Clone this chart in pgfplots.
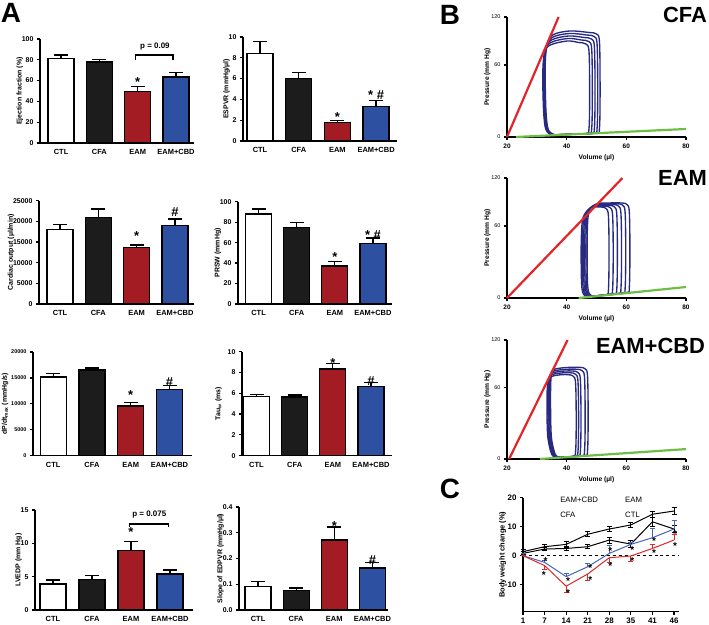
\documentclass[border=0pt]{standalone}
\usepackage{pgfplots}
\pgfplotsset{compat=1.18}
\usepackage{fontspec}
\setmainfont{Liberation Sans}

\definecolor{eamred}{RGB}{163,28,36}
\definecolor{cbdblue}{RGB}{46,80,160}
\definecolor{cfablack}{RGB}{28,28,28}
\definecolor{pvnavy}{RGB}{40,42,130}
\definecolor{espvr}{RGB}{228,36,40}
\definecolor{edpvr}{RGB}{110,190,70}
\definecolor{cred}{RGB}{222,40,40}
\definecolor{cblue}{RGB}{70,100,180}

\newcommand{\fs}[1]{\fontsize{#1}{#1}\selectfont}

\tikzset{
  ast/.style={font=\bfseries\fs{13}, inner sep=0pt, yshift=-2.5bp},
  sast/.style={font=\bfseries\fs{10}, inner sep=0pt, yshift=-2bp},
  ann/.style={font=\bfseries\fs{8}, inner sep=0pt},
}

\pgfplotsset{
  gp/.style={scale only axis, axis x line*=bottom, axis y line*=left,
    axis line style={line width=1.3bp, black},
    tick style={line width=1.2bp, black}, major tick length=3bp, tick align=outside,
    tick label style={font=\bfseries\fs{7}}, label style={font=\bfseries\fs{7}},
    ylabel shift=-8bp,
    /pgf/number format/assume math mode=true, clip=false},
  barax/.style={gp, ymin=0, xtick={1,2,3,4}, xticklabels={CTL,CFA,EAM,EAM+CBD},
    xtick style={draw=none}, xticklabel style={font=\bfseries\fs{7.5}},
    scaled y ticks=false},
  gbar/.style={ybar, bar width=26bp, bar shift=0pt, draw=black, line width=1.3bp,
    error bars/y dir=plus, error bars/y explicit,
    error bars/error bar style={line width=1.3bp, black},
    error bars/error mark options={rotate=90, line width=1.3bp, mark size=7bp, black}},
  pvax/.style={gp, width=179bp, height=120bp, xmin=20, xmax=80, ymin=0, ymax=120,
    xtick={20,40,60,80}, ytick={0,72,120}, yticklabels={0,60,120},
    xlabel={Volume (µl)}, ylabel={Pressure (mm Hg)}, ylabel shift=-6bp,
    xticklabel style={font=\bfseries\fs{6.5}}, yticklabel style={font=\fs{5.5}},
    label style={font=\bfseries\fs{6.7}}},
  pv/.style={pvnavy, line width=1.35bp, smooth, tension=0.55, mark=none},
  esl/.style={espvr, line width=2.2bp, mark=none},
  edl/.style={edpvr, line width=2.2bp, mark=none},
  bw/.style={line width=1bp, mark=none,
    error bars/y explicit,
    error bars/error bar style={line width=0.9bp},
    error bars/error mark options={rotate=90, line width=0.9bp, mark size=2.5bp}},
}

\begin{document}
\begin{tikzpicture}
\path[use as bounding box] (0,0) rectangle (709bp,625bp);

\node[font=\bfseries\fs{28}] at (11bp,612bp) {A};
\node[font=\bfseries\fs{28}] at (450bp,610bp) {B};
\node[font=\bfseries\fs{28}] at (450bp,136bp) {C};

% ---- A: ejection fraction
\begin{axis}[barax, at={(40bp,482bp)}, width=154bp, height=104bp,
  xmin=0.45, xmax=4.47, ymax=100, ytick={0,20,...,100},
  ylabel={Ejection fraction (\%)}]
\addplot[gbar, fill=white] coordinates {(1,81) +- (0,3.5)};
\addplot[gbar, fill=cfablack] coordinates {(2,78) +- (0,2)};
\addplot[gbar, fill=eamred] coordinates {(3,49.5) +- (0,5)};
\addplot[gbar, fill=cbdblue] coordinates {(4,63.5) +- (0,4.5)};
\node[ast] at (axis cs:3,60.6) {*};
\draw[line width=1.2bp] (axis cs:2.95,79.8) -- (axis cs:2.95,84.6) -- (axis cs:3.92,84.6) -- (axis cs:3.92,79.8);
\node[ann] at (axis cs:3.45,92.6) {p = 0.09};
\end{axis}

% ---- A: ESPVR
\begin{axis}[barax, at={(243bp,484bp)}, width=154bp, height=104bp,
  xmin=0.56, xmax=4.54, ymax=10, ytick={0,2,...,10},
  ylabel={ESPVR (mmHg/µl)}]
\addplot[gbar, fill=white] coordinates {(1,8.4) +- (0,1.2)};
\addplot[gbar, fill=cfablack] coordinates {(2,6.0) +- (0,0.6)};
\addplot[gbar, fill=eamred] coordinates {(3,1.8) +- (0,0.2)};
\addplot[gbar, fill=cbdblue] coordinates {(4,3.35) +- (0,0.55)};
\node[ast] at (axis cs:3,2.5) {*};
\node[ast] at (axis cs:4,4.65) {* \#};
\end{axis}

% ---- A: cardiac output
\begin{axis}[barax, at={(39bp,321bp)}, width=155bp, height=103.3bp,
  xmin=0.45, xmax=4.5, ymax=25000, ytick={0,5000,10000,15000,20000,25000},
  yticklabels={0,5000,10000,15000,20000,25000},
  ylabel={Cardiac output (µl/min)}]
\addplot[gbar, fill=white] coordinates {(1,18000) +- (0,1200)};
\addplot[gbar, fill=cfablack] coordinates {(2,21000) +- (0,2000)};
\addplot[gbar, fill=eamred] coordinates {(3,13700) +- (0,600)};
\addplot[gbar, fill=cbdblue] coordinates {(4,19000) +- (0,1600)};
\node[ast] at (axis cs:3,16940) {*};
\node[ast] at (axis cs:4,22900) {\#};
\end{axis}

% ---- A: PRSW
\begin{axis}[barax, at={(238bp,321bp)}, width=154bp, height=102.3bp,
  xmin=0.46, xmax=4.5, ymax=100, ytick={0,20,...,100},
  ylabel={PRSW (mmHg)}]
\addplot[gbar, fill=white] coordinates {(1,88) +- (0,5)};
\addplot[gbar, fill=cfablack] coordinates {(2,75) +- (0,5)};
\addplot[gbar, fill=eamred] coordinates {(3,37) +- (0,4.5)};
\addplot[gbar, fill=cbdblue] coordinates {(4,59) +- (0,5.5)};
\node[ast] at (axis cs:3,47.9) {*};
\node[ast] at (axis cs:4,69.7) {* \#};
\end{axis}

% ---- A: dP/dt max
\begin{axis}[barax, at={(33bp,169.3bp)}, width=159bp, height=103.7bp,
  xmin=0.48, xmax=4.58, ymax=20000, ytick={0,5000,10000,15000,20000},
  yticklabels={0,5000,10000,15000,20000}, yticklabel style={font=\bfseries\fs{5.5}},
  ylabel shift=-4bp,
  ylabel={dP/dt\textsubscript{max} (mmHg/s)}]
\addplot[gbar, fill=white] coordinates {(1,15200) +- (0,600)};
\addplot[gbar, fill=cfablack] coordinates {(2,16500) +- (0,400)};
\addplot[gbar, fill=eamred] coordinates {(3,9600) +- (0,700)};
\addplot[gbar, fill=cbdblue] coordinates {(4,12800) +- (0,700)};
\node[ast] at (axis cs:3,12150) {*};
\node[ast] at (axis cs:4,14730) {\#};
\end{axis}

% ---- A: Tau
\begin{axis}[barax, at={(242bp,169.3bp)}, width=150bp, height=104bp,
  xmin=0.62, xmax=4.55, ymax=10, ytick={0,2,...,10}, ylabel shift=-1bp,
  ylabel={Tau\textsubscript{w} (ms)}]
\addplot[gbar, fill=white] coordinates {(1,5.7) +- (0,0.2)};
\addplot[gbar, fill=cfablack] coordinates {(2,5.65) +- (0,0.2)};
\addplot[gbar, fill=eamred] coordinates {(3,8.35) +- (0,0.5)};
\addplot[gbar, fill=cbdblue] coordinates {(4,6.65) +- (0,0.4)};
\node[ast] at (axis cs:3,9.13) {*};
\node[ast] at (axis cs:4,7.44) {\#};
\end{axis}

% ---- A: LVEDP
\begin{axis}[barax, at={(35bp,15bp)}, width=158bp, height=100bp,
  xmin=0.54, xmax=4.59, ymax=15, ytick={0,5,10,15},
  ylabel={LVEDP (mm Hg)}]
\addplot[gbar, fill=white] coordinates {(1,3.9) +- (0,0.6)};
\addplot[gbar, fill=cfablack] coordinates {(2,4.6) +- (0,0.6)};
\addplot[gbar, fill=eamred] coordinates {(3,8.9) +- (0,1.4)};
\addplot[gbar, fill=cbdblue] coordinates {(4,5.4) +- (0,0.6)};
\node[ast] at (axis cs:3,12.0) {*};
\draw[line width=1.2bp] (axis cs:2.97,12.4) -- (axis cs:2.97,12.9) -- (axis cs:3.96,12.9) -- (axis cs:3.96,12.4);
\node[ann] at (axis cs:3.47,14.25) {p = 0.075};
\end{axis}

% ---- A: slope of EDPVR
\begin{axis}[barax, at={(239bp,15bp)}, width=149bp, height=103bp,
  xmin=0.5, xmax=4.41, ymax=0.4, ytick={0,0.1,0.2,0.3,0.4},
  yticklabels={0.0,0.1,0.2,0.3,0.4},
  ylabel={Slope of EDPVR (mmHg/µl)}]
\addplot[gbar, fill=white] coordinates {(1,0.09) +- (0,0.02)};
\addplot[gbar, fill=cfablack] coordinates {(2,0.077) +- (0,0.008)};
\addplot[gbar, fill=eamred] coordinates {(3,0.272) +- (0,0.05)};
\addplot[gbar, fill=cbdblue] coordinates {(4,0.163) +- (0,0.022)};
\node[ast] at (axis cs:3,0.334) {*};
\node[ast] at (axis cs:4,0.205) {\#};
\end{axis}

% ---- B: CFA loops
\begin{axis}[pvax, at={(507bp,488bp)}]
\addplot[pv] coordinates {(36.3,2.2) (42.9,3.0) (50.0,4.0) (51.0,9) (51.2,47) (51.0,95) (50.0,103) (47.5,104.5) (41,106) (35.3,102) (33.4,91) (32.8,71) (33.0,30) (33.6,10) (34.8,3.8) (36.3,2.2)};
\addplot[pv] coordinates {(36.1,2.2) (42.4,2.9) (49.2,3.8) (50.2,9) (50.4,46) (50.2,92.5) (49.2,100.5) (46.7,102) (40.8,103.5) (35.1,99.5) (33.2,89) (32.6,69) (32.8,30) (33.4,10) (34.6,3.8) (36.1,2.2)};
\addplot[pv] coordinates {(35.9,2.1) (41.9,2.8) (48.3,3.7) (49.3,9) (49.5,45) (49.3,90) (48.3,98) (45.8,99.5) (40.6,101) (34.9,97) (33.0,87.5) (32.4,67.5) (32.6,30) (33.2,10) (34.4,3.7) (35.9,2.1)};
\addplot[pv] coordinates {(35.7,2.1) (41.3,2.7) (47.4,3.6) (48.4,9) (48.6,44) (48.4,87.5) (47.4,95.5) (44.9,97) (40.4,98.5) (34.7,94.5) (32.8,86) (32.2,66) (32.4,30) (33.0,10) (34.2,3.6) (35.7,2.1)};
\addplot[pv] coordinates {(35.5,2.0) (40.8,2.6) (46.5,3.5) (47.5,9) (47.7,43) (47.5,85) (46.5,93) (44.0,94.5) (40.2,96) (34.5,92) (32.6,84.5) (32.0,64.5) (32.2,30) (32.8,10) (34.0,3.5) (35.5,2.0)};
\addplot[esl] coordinates {(20,0) (37.3,120)};
\addplot[edl] coordinates {(23,0) (80,8)};
\end{axis}
\node[font=\bfseries\fs{22}] at (685bp,610bp) {CFA};

% ---- B: EAM loops
\begin{axis}[pvax, at={(507bp,327bp)}]
\addplot[pv] coordinates {(47.4,1.3) (49.45,2.0) (53.2,3.4) (54.0,8) (54.2,45) (54.0,82) (53.2,89.5) (51.5,91) (49.45,91) (47.9,90) (45.5,80.4) (44.9,58.4) (44.9,25) (45.2,8) (46.1,2.1) (47.4,1.3)};
\addplot[pv] coordinates {(47.8,1.5) (50.35,2.2) (54.6,3.8) (55.4,8.5) (55.6,45) (55.4,82.8) (54.6,90.3) (52.9,91.8) (50.35,91.8) (48.3,90.8) (45.9,81.7) (45.3,59.7) (45.3,25) (45.6,8) (46.5,2.2) (47.8,1.5)};
\addplot[pv] coordinates {(48.2,1.6) (51.25,2.5) (56.0,4.2) (56.8,9) (57.0,45) (56.8,83.6) (56.0,91.1) (54.3,92.6) (51.25,92.6) (48.7,91.6) (46.3,82.9) (45.7,60.9) (45.7,25) (46.0,8) (46.9,2.3) (48.2,1.6)};
\addplot[pv] coordinates {(48.6,1.7) (52.15,2.8) (57.4,4.6) (58.2,9.5) (58.4,46) (58.2,84.4) (57.4,91.9) (55.7,93.4) (52.15,93.4) (49.1,92.4) (46.7,84.2) (46.1,62.2) (46.1,25) (46.4,8) (47.3,2.5) (48.6,1.7)};
\addplot[pv] coordinates {(49.0,1.8) (53.05,3.1) (58.8,5.1) (59.6,10) (59.8,46) (59.6,85.2) (58.8,92.7) (57.1,94.2) (53.05,94.2) (49.5,93.2) (47.1,85.4) (46.5,63.4) (46.5,25) (46.8,8) (47.7,2.6) (49.0,1.8)};
\addplot[pv] coordinates {(49.4,2.0) (53.95,3.3) (60.2,5.5) (61.0,10.5) (61.2,47) (61.0,86) (60.2,93.5) (58.5,95) (53.95,95) (49.9,94) (47.5,86.6) (46.9,64.6) (46.9,25) (47.2,8) (48.1,2.7) (49.4,2.0)};
\addplot[esl] coordinates {(20,0) (58.7,120)};
\addplot[edl] coordinates {(44,0) (80,11)};
\end{axis}
\node[font=\bfseries\fs{22}] at (682.5bp,447bp) {EAM};

% ---- B: EAM+CBD loops
\begin{axis}[pvax, at={(507bp,166bp)}, height=119bp]
\addplot[pv] coordinates {(36.4,1.4) (38.2,1.8) (42.2,2.8) (43.0,8) (43.2,38) (43.0,76) (42.2,83.5) (40.5,85) (38.2,85) (35.2,83.5) (33.8,80) (33.4,60) (33.6,25) (34.6,8) (35.4,3) (36.4,1.4)};
\addplot[pv] coordinates {(36.7,1.5) (38.75,1.9) (43.0,2.9) (43.8,8) (44.0,39) (43.8,77.9) (43.0,85.4) (41.3,86.9) (38.75,86.9) (35.5,85.4) (34.1,81.9) (33.7,61.9) (33.9,25) (34.9,8) (35.7,3) (36.7,1.5)};
\addplot[pv] coordinates {(37.0,1.5) (39.3,2.0) (43.8,3.0) (44.6,8) (44.8,40) (44.6,79.7) (43.8,87.2) (42.1,88.7) (39.3,88.7) (35.8,87.2) (34.4,83.7) (34.0,63.7) (34.2,25) (35.2,8) (36.0,3) (37.0,1.5)};
\addplot[pv] coordinates {(37.3,1.6) (40.15,2.2) (45.2,3.2) (46.0,8.5) (46.2,41) (46.0,81.5) (45.2,89) (43.5,90.5) (40.15,90.5) (36.1,89) (34.7,85.5) (34.3,65.5) (34.5,25) (35.5,8) (36.3,3) (37.3,1.6)};
\addplot[pv] coordinates {(37.6,1.6) (40.8,2.3) (46.2,3.4) (47.0,8.5) (47.2,42) (47.0,83.4) (46.2,90.9) (44.5,92.4) (40.8,92.4) (36.4,90.9) (35.0,87.4) (34.6,67.4) (34.8,25) (35.8,8) (36.6,3) (37.6,1.6)};
\addplot[esl] coordinates {(20.7,0) (40.3,120)};
\addplot[edl] coordinates {(31,0) (80,10)};
\end{axis}
\node[font=\bfseries\fs{22}] at (650.5bp,279bp) {EAM+CBD};

% ---- C: body weight change
\begin{axis}[gp, at={(523bp,13.3bp)}, width=156.4bp, height=114bp,
  xmin=0, xmax=7.25, ymin=-19.3, ymax=20,
  xtick={0,...,7}, xticklabels={1,7,14,21,28,35,41,46},
  ytick={-10,0,10,20},
  tick label style={font=\bfseries\fs{8}}, label style={font=\bfseries\fs{7.5}},
  ylabel={Body weight change (\%)}]
\addplot[black, dashed, line width=0.9bp, mark=none] coordinates {(0,0) (7.25,0)};
\addplot[black, bw, error bars/y dir=both] coordinates {
  (0,1.4) +- (0,0.7) (1,3.1) +- (0,0.9) (2,3.9) +- (0,1.0) (3,7.4) +- (0,0.9)
  (4,9.2) +- (0,0.9) (5,10.6) +- (0,0.9) (6,14.3) +- (0,1.0) (7,15.4) +- (0,1.1)};
\addplot[black, bw, error bars/y dir=both] coordinates {
  (0,0.8) +- (0,0.5) (1,2.3) +- (0,0.6) (2,2.5) +- (0,0.6) (3,3.1) +- (0,0.7)
  (4,5.4) +- (0,1.0) (5,4.0) +- (0,1.1) (6,11.7) +- (0,1.6) (7,9.2) +- (0,1.2)};
\addplot[cblue, bw, error bars/y dir=plus] coordinates {
  (0,0) +- (0,0.8) (1,-2.3) +- (0,0.8) (2,-7.2) +- (0,1.1) (3,-3.8) +- (0,1.2)
  (4,0.8) +- (0,2.8) (5,3.9) +- (0,0.6) (6,6.2) +- (0,3.2) (7,9.2) +- (0,3.1)};
\addplot[cred, bw, error bars/y dir=minus] coordinates {
  (0,0) +- (0,0) (1,-3.4) +- (0,1.5) (2,-10.5) +- (0,2.1) (3,-6.3) +- (0,2.3)
  (4,-0.7) +- (0,1.6) (5,-0.1) +- (0,2.0) (6,2.5) +- (0,-1.4) (7,5.4) +- (0,-2.0)};
\node[sast] at (axis cs:1.05,-1.3) {*};
\node[sast] at (axis cs:0.97,-6.1) {*};
\node[sast] at (axis cs:2.09,-8.0) {*};
\node[sast] at (axis cs:2.09,-12.2) {*};
\node[sast] at (axis cs:3.12,-3.6) {*};
\node[sast] at (axis cs:3.12,-7.6) {*};
\node[sast] at (axis cs:4.05,2.3) {*};
\node[sast] at (axis cs:4.05,-3.0) {*};
\node[sast] at (axis cs:5.07,2.5) {*};
\node[sast] at (axis cs:5.07,-1.1) {*};
\node[sast] at (axis cs:6.07,5.6) {*};
\node[sast] at (axis cs:6.07,1.7) {*};
\node[sast] at (axis cs:7.05,8.0) {*};
\node[sast] at (axis cs:7.05,3.9) {*};
\node[font=\fs{7.8}, anchor=west, inner sep=0pt] at (axis cs:1.72,19.2) {EAM+CBD};
\node[font=\fs{7.8}, anchor=west, inner sep=0pt] at (axis cs:4.73,19.2) {EAM};
\node[font=\fs{7.8}, anchor=west, inner sep=0pt] at (axis cs:1.72,14.0) {CFA};
\node[font=\fs{7.8}, anchor=west, inner sep=0pt] at (axis cs:4.73,14.0) {CTL};
\end{axis}

\end{tikzpicture}
\end{document}
